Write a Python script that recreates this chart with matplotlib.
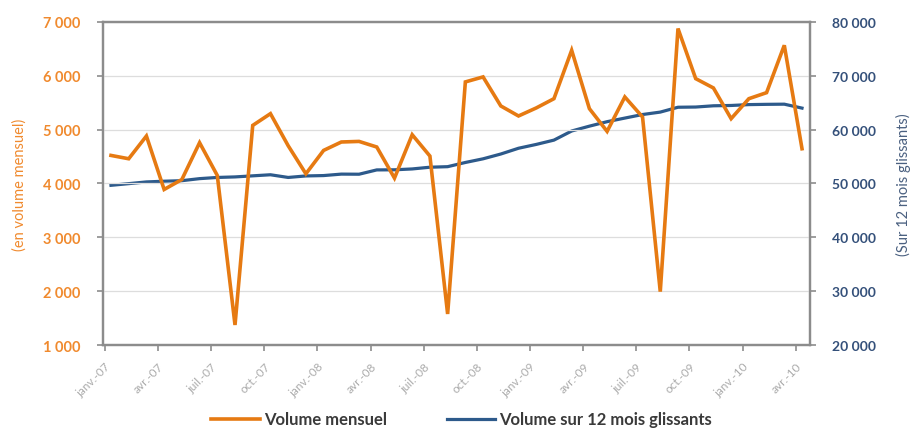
import matplotlib
matplotlib.use("Agg")
from matplotlib import pyplot as plt
import numpy as np

plt.rcParams['font.family'] = ['Lato', 'DejaVu Sans']

# monthly volume, janv-07 .. avr-10
mensuel = [4519, 4457, 4879, 3887, 4072, 4755, 4147, 1372, 5076, 5294, 4699, 4178,
           4612, 4768, 4779, 4675, 4098, 4903, 4507, 1576, 5883, 5976, 5437, 5251,
           5400, 5572, 6470, 5387, 4965, 5604, 5232, 1991, 6874, 5944, 5771, 5201,
           5572, 5684, 6563, 4643]

# rolling 12-month volume
glissant = [49640, 49950, 50270, 50400, 50500, 50880, 51100, 51200, 51400, 51600, 51100, 51380,
            51450, 51720, 51700, 52500, 52520, 52680, 53000, 53100, 53880, 54560, 55450, 56520,
            57230, 58030, 59720, 60620, 61450, 62120, 62780, 63230, 64130, 64170, 64400, 64460,
            64620, 64670, 64700, 63970]

mois = ['janv.-07', 'avr.-07', 'juil.-07', 'oct.-07', 'janv.-08', 'avr.-08', 'juil.-08',
        'oct.-08', 'janv.-09', 'avr.-09', 'juil.-09', 'oct.-09', 'janv.-10', 'avr.-10']

orange = '#E67A12'
bleu = '#2D5A8B'
gris = '#8C8C8C'

fig = plt.figure(figsize=(9.14, 4.39), dpi=100)
ax = fig.add_axes([0.1127, 0.2118, 0.7735, 0.7364])
ax2 = ax.twinx()

x = np.arange(len(mensuel))
l1, = ax.plot(x, mensuel, color=orange, lw=2.6, solid_joinstyle='miter', zorder=3)
l2, = ax2.plot(x, glissant, color=bleu, lw=2.3, zorder=2)
ax.set_zorder(ax2.get_zorder() + 1)
ax.patch.set_visible(False)

ax.set_xlim(-0.45, 39.45)
ax.set_ylim(1000, 7000)
ax2.set_ylim(20000, 80000)

ax.set_yticks(np.arange(1000, 7001, 1000))
ax2.set_yticks(np.arange(20000, 80001, 10000))
ax.set_yticklabels([f'{v:,}'.replace(',', ' ') for v in range(1000, 7001, 1000)],
                   color='#F08A2E', fontsize=10.5, fontweight='bold')
ax2.set_yticklabels([f'{v:,}'.replace(',', ' ') for v in range(20000, 80001, 10000)],
                    color='#34507A', fontsize=10, fontweight='bold')

ax.set_xticks(np.arange(len(mois)) * 3 - 0.35)
ax.set_xticklabels(mois, rotation=45, ha='right', rotation_mode='anchor',
                   fontsize=8.5, color='#ABABAB')

ax.grid(axis='y', color='#DDDDDD', lw=0.9)
ax.set_axisbelow(True)

for a in (ax, ax2):
    for s in a.spines.values():
        s.set_color(gris)
        s.set_linewidth(1.6)
    a.tick_params(axis='both', color=gris, width=1.2, length=4, pad=12)
ax.tick_params(axis='x', pad=7)

ax.set_ylabel('(en volume mensuel)', color='#F08A2E', fontsize=10.5, labelpad=12)
ax2.set_ylabel('(Sur 12 mois glissants)', color='#4A6080', fontsize=10.5,
               rotation=90, labelpad=14)

fig.legend([l1, l2], ['Volume mensuel', 'Volume sur 12 mois glissants'],
           loc='lower center', bbox_to_anchor=(0.505, -0.01), ncol=2, frameon=False,
           handlelength=2.9, columnspacing=3.6, handletextpad=0.25,
           prop={'size': 12, 'weight': 'bold'}, labelcolor='#3A3A3A')

fig.savefig('out.png', dpi=100)
